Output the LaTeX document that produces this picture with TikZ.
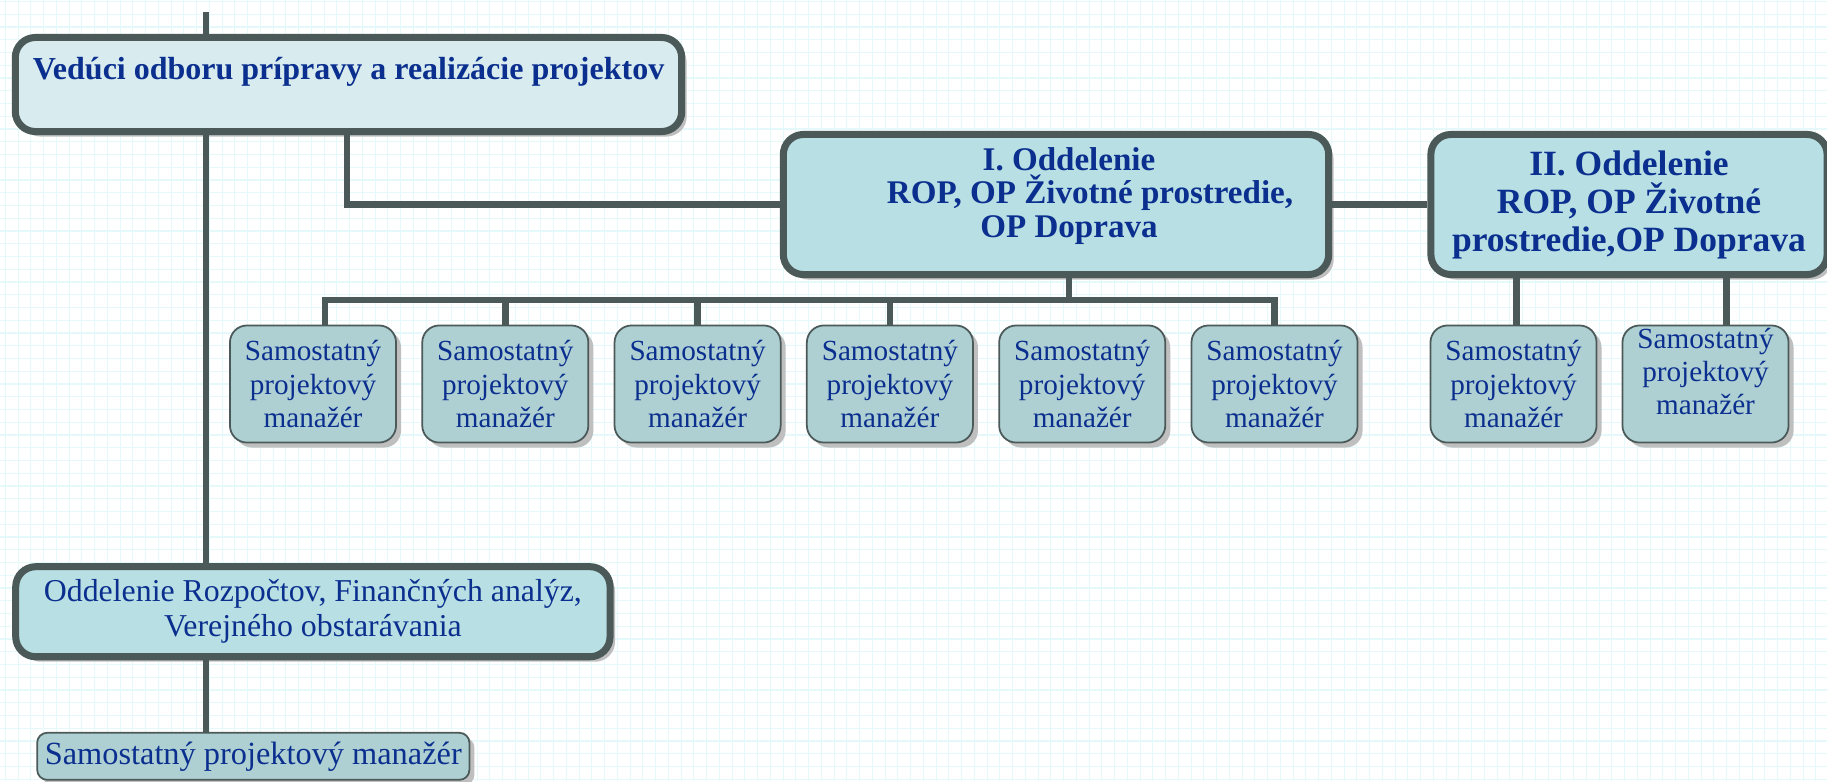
\documentclass[tikz,border=0pt]{standalone}
\usepackage{fontspec}
\setmainfont{Liberation Serif}
\usetikzlibrary{shadows}
\definecolor{edge}{HTML}{4B5959}
\definecolor{ink}{HTML}{0B2F8E}
\definecolor{paleblue}{HTML}{D8ECEF}
\definecolor{midblue}{HTML}{B8DFE3}
\definecolor{smallblue}{HTML}{AED0D3}
\definecolor{gridcyan}{HTML}{E6F9FA}
\tikzset{
  bigbox/.style={draw=edge, line width=2pt, rounded corners=0.2cm, text=ink, align=center, inner sep=0pt,
    drop shadow={shadow xshift=0.05cm, shadow yshift=-0.05cm, fill=black!25, opacity=1}},
  smallbox/.style={draw=edge, line width=0.5pt, fill=smallblue, rounded corners=0.17cm, text=ink, align=center,
    inner sep=0pt, minimum width=1.66cm, minimum height=1.17cm, font=\fontsize{8.3}{9.4}\selectfont,
    drop shadow={shadow xshift=0.05cm, shadow yshift=-0.05cm, fill=black!25, opacity=1}},
  link/.style={draw=edge, line width=1.9pt},
  gridline/.style={gridcyan, line width=0.3pt}
}
\begin{document}
\begin{tikzpicture}[x=0.01cm,y=-0.01cm]
\useasboundingbox (0,0) rectangle (1827,781);
\fill[white] (0,0) rectangle (1827,781);
\foreach \i in {0,...,143} \draw[gridline] ({5.4+12.75*\i},0) -- ({5.4+12.75*\i},781);
\foreach \j in {0,...,61} \draw[gridline] (0,{1.5+12.75*\j}) -- (1827,{1.5+12.75*\j});

\node[bigbox, fill=paleblue, minimum width=6.66cm, minimum height=0.94cm, font=\bfseries\fontsize{9.1}{10.5}\selectfont] (lead) at (348.5,84.5) {Vedúci odboru prípravy a realizácie projektov\\[-1.5pt]\mbox{}};
\node[bigbox, fill=midblue, minimum width=5.45cm, minimum height=1.4cm, font=\bfseries\fontsize{9.4}{10}\selectfont] (dept1) at (1056,204.5) {\hspace*{0.26cm}I. Oddelenie\\[-0.5pt] \hspace*{0.68cm}ROP, OP Životné prostredie,\\[-0.5pt] \hspace*{0.26cm}OP Doprava\\[-3pt]\mbox{}};
\node[bigbox, fill=midblue, minimum width=3.96cm, minimum height=1.4cm, font=\bfseries\fontsize{10.1}{10.8}\selectfont] (dept2) at (1629,204.5) {II. Oddelenie\\ ROP, OP Životné\\ prostredie,OP Doprava};
\node[bigbox, fill=midblue, minimum width=5.94cm, minimum height=0.9cm, font=\fontsize{9.05}{10}\selectfont] (budget) at (312.9,611.7) {Oddelenie Rozpočtov, Finančných analýz,\\ Verejného obstarávania};

\foreach \n/\xc in {1/313,2/505.3,3/697.6,4/889.9,5/1082.2,6/1274.5}
  \node[smallbox] (pm\n) at (\xc,384) {Samostatný\\ projektový\\ manažér};
\node[smallbox] (pm7) at (1513.5,384) {Samostatný\\ projektový\\ manažér};
\node[smallbox] (pm8) at (1705.5,384) {Samostatný\\ projektový\\ manažér\\[-2pt]\mbox{}};
\node[smallbox, minimum width=4.32cm, minimum height=0.47cm, rounded corners=0.1cm, font=\fontsize{9.2}{10}\selectfont] (pm9) at (253.3,756.3) {Samostatný projektový manažér};

\coordinate (stub) at (206,12);
\draw[link] (stub) -- (stub |- lead.north);
\draw[link] (stub |- lead.south) -- (budget.north -| stub);
\draw[link] (budget.south -| stub) -- (pm9.north -| stub);
\coordinate (elbow) at (347,204.5);
\draw[link] (elbow |- lead.south) -- (elbow) -- (dept1.west);
\draw[link] (dept1.east) -- (dept2.west);
\coordinate (drop) at (1069,300);
\coordinate (busL) at (325,300);
\draw[link] (drop |- dept1.south) -- (drop);
\draw[link] (busL |- pm1.north) -- (busL) -- (drop -| pm6.north) -- (pm6.north);
\foreach \n in {2,3,4} \draw[link] (pm\n.north) -- (pm\n.north |- drop);
\coordinate (dropA) at (1516.7,300);
\coordinate (dropB) at (1726.7,300);
\draw[link] (dropA |- dept2.south) -- (dropA |- pm7.north);
\draw[link] (dropB |- dept2.south) -- (dropB |- pm8.north);
\end{tikzpicture}
\end{document}
